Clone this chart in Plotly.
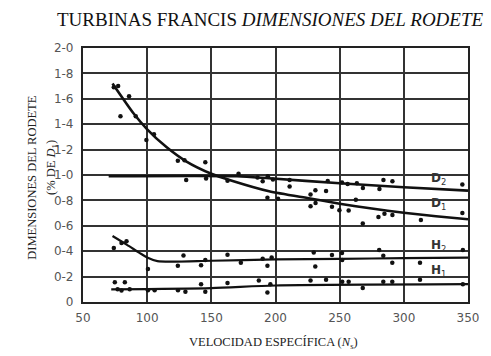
import plotly.graph_objects as go

# Fitted curves (specific speed Ns vs. dimension as fraction of D1)
d1_curve_x = [73, 89, 100, 115, 130, 150, 166, 195, 227, 250, 275, 300, 325, 350]
d1_curve_y = [1.72, 1.49, 1.36, 1.22, 1.11, 1.01, 0.955, 0.872, 0.815, 0.774, 0.736, 0.703, 0.675, 0.651]

d2_curve_x = [70, 170, 195, 250, 300, 350]
d2_curve_y = [0.99, 0.99, 0.974, 0.935, 0.904, 0.877]

h2_curve_x = [73, 84, 94, 100, 108, 150, 200, 250, 300, 350]
h2_curve_y = [0.52, 0.452, 0.387, 0.35, 0.322, 0.325, 0.335, 0.34, 0.345, 0.35]

h1_curve_x = [72, 150, 200, 350]
h1_curve_y = [0.10, 0.11, 0.13, 0.14]

# Measured points
d1_pts_x = [74, 77.4, 85.9, 79.2, 91.1, 99.4, 105.3, 123.9, 129.1, 145.3, 193.7, 202, 227.3,
            231.2, 244, 249.8, 257, 262.6, 268, 280.2, 284.9, 291.1, 313.3, 345.6]
d1_pts_y = [1.69, 1.70, 1.62, 1.463, 1.463, 1.275, 1.32, 1.112, 1.117, 1.10, 0.82, 0.813, 0.754,
            0.78, 0.75, 0.723, 0.72, 0.805, 0.618, 0.67, 0.695, 0.685, 0.645, 0.70]

d2_pts_x = [130.4, 145.9, 162.6, 171.2, 186, 190, 194, 198, 211, 211, 227.3, 231.1, 239.4, 240.7,
            251.8, 256.2, 263.4, 268.1, 281, 284.1, 291.1, 345.6]
d2_pts_y = [0.96, 0.973, 0.954, 1.01, 0.98, 0.95, 0.99, 0.965, 0.91, 0.96, 0.846, 0.88, 0.875, 0.953,
            0.94, 0.93, 0.935, 0.897, 0.89, 0.96, 0.95, 0.925]

h2_pts_x = [74, 80, 83.9, 100.6, 123.9, 128.3, 142, 145.3, 162.6, 173, 190, 193.7, 197, 229.8, 231,
            244, 251.8, 252, 280.8, 284, 291, 312.6, 346]
h2_pts_y = [0.426, 0.465, 0.478, 0.26, 0.285, 0.366, 0.29, 0.33, 0.373, 0.31, 0.34, 0.286, 0.35, 0.39,
            0.28, 0.37, 0.386, 0.33, 0.41, 0.365, 0.31, 0.31, 0.41]

h1_pts_x = [74.8, 77, 80, 82.6, 86.4, 100.6, 105.8, 124, 129.8, 142, 145.3, 162.6, 187, 193.7, 196,
            227.3, 239.4, 252, 257, 268, 284, 291, 312.6, 346]
h1_pts_y = [0.155, 0.10, 0.09, 0.155, 0.10, 0.093, 0.093, 0.093, 0.08, 0.14, 0.08, 0.15, 0.17, 0.075,
            0.14, 0.17, 0.175, 0.16, 0.16, 0.11, 0.16, 0.16, 0.175, 0.14]

y_tick_vals = [0, 0.2, 0.4, 0.6, 0.8, 1.0, 1.2, 1.4, 1.6, 1.8, 2.0]
y_tick_text = ["0", "0-2", "0-4", "0-6", "0-8", "1-0", "1-2", "1-4", "1-6", "1-8", "2-0"]
x_tick_vals = [50, 100, 150, 200, 250, 300, 350]

curve_labels = ["<b>D</b><sub>2</sub>", "<b>D</b><sub>1</sub>", "<b>H</b><sub>2</sub>", "<b>H</b><sub>1</sub>"]
label_x = [327, 327, 327, 327]
label_y = [0.97, 0.77, 0.44, 0.245]

fig = go.Figure()

for xs, ys in [(d1_pts_x, d1_pts_y), (d2_pts_x, d2_pts_y), (h2_pts_x, h2_pts_y), (h1_pts_x, h1_pts_y)]:
    fig.add_trace(go.Scatter(x=xs, y=ys, mode="markers",
                             marker=dict(color="#111", size=4.5), showlegend=False))

for xs, ys, w in [(d1_curve_x, d1_curve_y, 2.6), (d2_curve_x, d2_curve_y, 2.6),
                  (h2_curve_x, h2_curve_y, 2.2), (h1_curve_x, h1_curve_y, 2.2)]:
    fig.add_trace(go.Scatter(x=xs, y=ys, mode="lines",
                             line=dict(color="#111", width=w, shape="spline", smoothing=0.7),
                             showlegend=False))

for t, lx, ly in zip(curve_labels, label_x, label_y):
    fig.add_annotation(x=lx, y=ly, text=t, showarrow=False, xanchor="center",
                       font=dict(family="DejaVu Sans", size=12, color="#333"))

fig.add_annotation(xref="paper", yref="paper", x=-0.158, y=0.49, text="DIMENSIONES DEL RODETE",
                   textangle=-90, showarrow=False,
                   font=dict(family="Liberation Serif", size=12.5, color="#222"))
fig.add_annotation(xref="paper", yref="paper", x=-0.105, y=0.53, text="(% DE <i>D</i><sub>1</sub>)",
                   textangle=-90, showarrow=False,
                   font=dict(family="Liberation Serif", size=12.5, color="#222"))
fig.add_annotation(xref="paper", yref="paper", x=0.496, y=-0.16, yanchor="middle",
                   text="VELOCIDAD ESPECÍFICA (<i>N</i><sub>s</sub>)", showarrow=False,
                   font=dict(family="Liberation Serif", size=12.5, color="#222"))

fig.update_layout(
    width=491, height=356,
    margin=dict(l=83, r=21, t=48, b=54),
    paper_bgcolor="white", plot_bgcolor="white",
    title=dict(text="TURBINAS FRANCIS <i>DIMENSIONES DEL RODETE</i>",
               x=0.55, xanchor="center", y=0.945, yanchor="middle",
               font=dict(family="Liberation Serif", size=19, color="#111")),
    xaxis=dict(range=[50, 350], tickvals=x_tick_vals, showgrid=True, gridcolor="#333",
               gridwidth=1.6, zeroline=False, showline=True, linecolor="#222", linewidth=2.2,
               mirror=True, ticks="", ticklabelstandoff=3,
               tickfont=dict(family="DejaVu Sans", size=12, color="#555")),
    yaxis=dict(range=[0, 2.0], tickvals=y_tick_vals, ticktext=y_tick_text, showgrid=True,
               gridcolor="#333", gridwidth=1.6, zeroline=False, showline=True, linecolor="#222",
               linewidth=2.2, mirror=True, ticks="", ticklabelstandoff=5,
               tickfont=dict(family="DejaVu Sans", size=12, color="#555")),
)

fig.write_html("out.html")
